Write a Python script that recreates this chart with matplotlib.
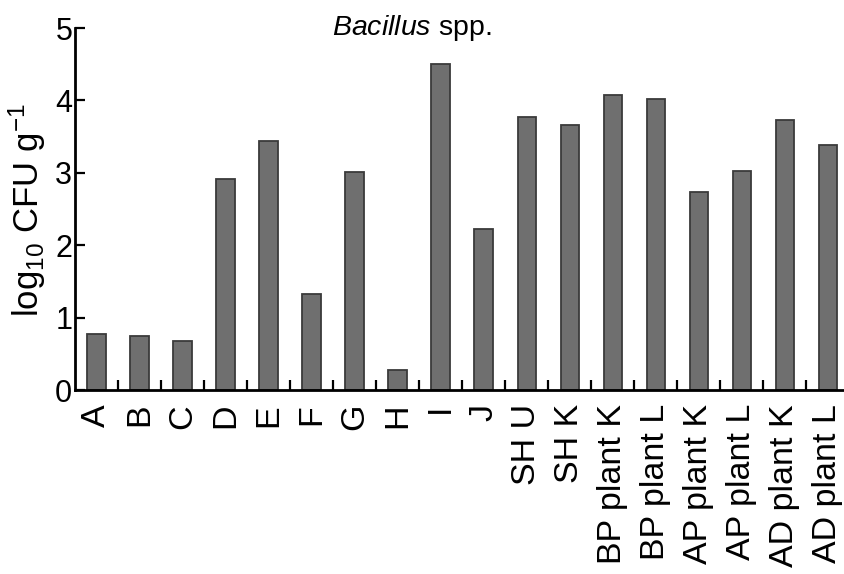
import numpy as np
import matplotlib
matplotlib.use("Agg")
import matplotlib.pyplot as plt
from matplotlib.ticker import FixedLocator

plt.rcParams['font.family'] = ['Liberation Sans', 'DejaVu Sans']
plt.rcParams['mathtext.fontset'] = 'custom'
plt.rcParams['mathtext.rm'] = 'Liberation Sans'
plt.rcParams['mathtext.it'] = 'Liberation Sans:italic'

# data
samples = ['A', 'B', 'C', 'D', 'E', 'F', 'G', 'H', 'I', 'J',
           'SH U', 'SH K', 'BP plant K', 'BP plant L',
           'AP plant K', 'AP plant L', 'AD plant K', 'AD plant L']
log_cfu = [0.78, 0.74, 0.67, 2.91, 3.44, 1.33, 3.01, 0.27, 4.50, 2.23,
           3.77, 3.66, 4.07, 4.02, 2.73, 3.02, 3.73, 3.38]

fig = plt.figure(figsize=(8.44, 5.74), dpi=100)
ax = fig.add_axes([75 / 844, 184 / 574, 768 / 844, 362 / 574])

x = np.arange(len(samples))
ax.bar(x, log_cfu, width=0.43, color='#6f6f6f', edgecolor='#3a3a3a', linewidth=1.3)

ax.set_xlim(-0.5, len(samples) - 0.65)
ax.set_ylim(0, 5)

ax.spines['top'].set_visible(False)
ax.spines['right'].set_visible(False)
ax.spines['left'].set_linewidth(2)
ax.spines['bottom'].set_linewidth(2)

ax.set_xticks(x)
ax.set_xticklabels(samples, rotation=90, fontsize=24.5)
ax.tick_params(axis='x', which='major', length=0, pad=10)
ax.xaxis.set_minor_locator(FixedLocator(x[:-1] + 0.5))
ax.tick_params(axis='x', which='minor', direction='in', length=7, width=1.6)

ax.set_yticks([0, 1, 2, 3, 4, 5])
ax.tick_params(axis='y', direction='in', length=7, width=1.6, labelsize=22, pad=2)

fig.text(27 / 844, 0.634, 'log$_{10}$ CFU g$^{\\mathregular{-1}}$', rotation=90,
         ha='center', va='center', fontsize=25)
fig.text(412 / 844, 0.939, '$\\it{Bacillus}$ spp.', ha='center', va='baseline', fontsize=20.5)

fig.savefig('out.png', dpi=100)
